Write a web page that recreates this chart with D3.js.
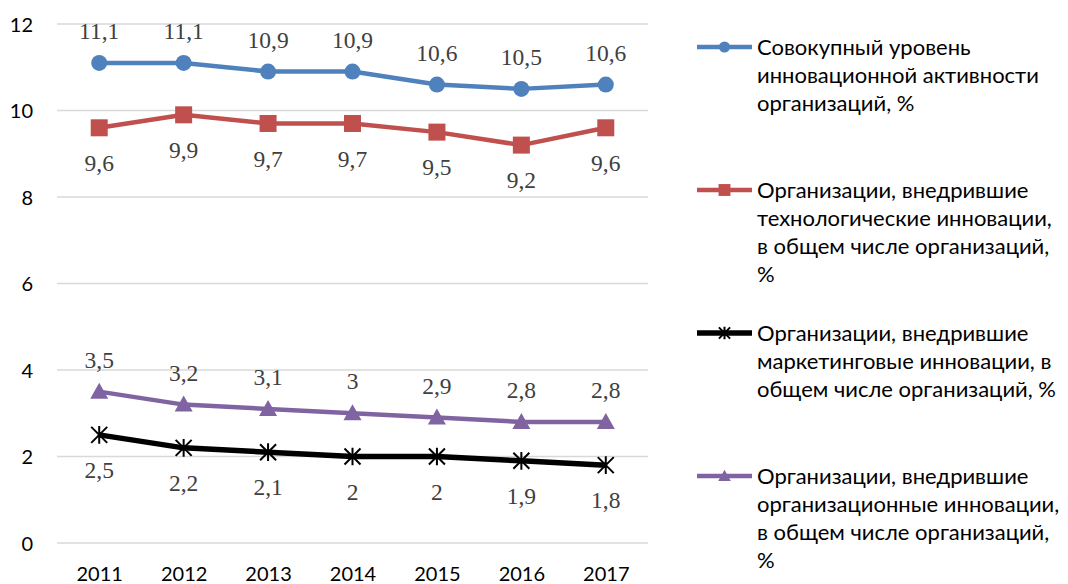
<!DOCTYPE html>
<html><head><meta charset="utf-8">
<script src="https://cdn.jsdelivr.net/npm/d3@7"></script>
<style>body{margin:0;background:#fff}</style>
</head><body>
<svg id="c" width="1068" height="584"></svg>
<script>
const years = ["2011","2012","2013","2014","2015","2016","2017"];
const totalActivity = [11.1,11.1,10.9,10.9,10.6,10.5,10.6];
const technological = [9.6,9.9,9.7,9.7,9.5,9.2,9.6];
const marketing = [2.5,2.2,2.1,2.0,2.0,1.9,1.8];
const organizational = [3.5,3.2,3.1,3.0,2.9,2.8,2.8];
const yTicks = [0,2,4,6,8,10,12];
const seriesNames = [
  ["Совокупный уровень","инновационной активности","организаций, %"],
  ["Организации, внедрившие","технологические инновации,","в общем числе организаций,","%"],
  ["Организации, внедрившие","маркетинговые инновации, в","общем числе организаций, %"],
  ["Организации, внедрившие","организационные инновации,","в общем числе организаций,","%"]
];

const series = [
  {values: totalActivity, color:"#4F81BD", marker:"circle", label:"above", width:4.5, name:seriesNames[0]},
  {values: technological, color:"#C0504D", marker:"square", label:"below", width:4.5, name:seriesNames[1]},
  {values: marketing, color:"#000000", marker:"star", label:"below", width:5.5, name:seriesNames[2]},
  {values: organizational, color:"#8064A2", marker:"triangle", label:"above", width:4.5, name:seriesNames[3]}
];

const svg = d3.select("#c");
const x = d3.scalePoint().domain(years).range([57,648]).padding(0.5);
const y = d3.scaleLinear().domain([0,12]).range([543,24]);
const sansFont = "Lato, 'Open Sans', sans-serif";

// gridlines
svg.append("g").selectAll("line").data(yTicks).join("line")
  .attr("x1",57).attr("x2",648).attr("y1",d=>y(d)).attr("y2",d=>y(d))
  .attr("stroke","#D9D9D9").attr("stroke-width",1.5);

// y axis labels
const yAxis = d3.axisLeft(y).tickValues(yTicks).tickSize(0).tickPadding(0).tickFormat(d=>d);
const ya = svg.append("g").attr("transform","translate(33,0)").call(yAxis);
ya.select(".domain").remove();
ya.selectAll("text").attr("font-family",sansFont).attr("font-size",20).attr("fill","#000").attr("dy","0.35em");

// x axis labels
const xAxis = d3.axisBottom(x).tickSize(0).tickPadding(0);
const xa = svg.append("g").attr("transform","translate(0,565)").call(xAxis);
xa.select(".domain").remove();
xa.selectAll("text").attr("font-family",sansFont).attr("font-size",20).attr("fill","#000").attr("dy","0.8em");

function drawMarker(g, type, color, s){
  if(type==="circle"){
    g.append("circle").attr("r",8*s).attr("fill",color);
  } else if(type==="square"){
    g.append("rect").attr("x",-8.5*s).attr("y",-8.5*s).attr("width",17*s).attr("height",17*s).attr("fill",color);
  } else if(type==="triangle"){
    g.append("path").attr("d",`M0,${-9*s}L${9*s},${7*s}L${-9*s},${7*s}Z`).attr("fill",color);
  } else if(type==="star"){
    const r=8*s;
    g.append("path").attr("d",`M${-r},${-r}L${r},${r}M${-r},${r}L${r},${-r}M0,${-r*1.1}L0,${r*1.1}`)
      .attr("stroke",color).attr("stroke-width",2).attr("fill","none");
  }
}

const line = d3.line().x((d,i)=>x(years[i])).y(d=>y(d));
series.forEach(s=>{
  svg.append("path").datum(s.values).attr("d",line).attr("fill","none")
    .attr("stroke",s.color).attr("stroke-width",s.width).attr("stroke-linejoin","round");
  s.values.forEach((v,i)=>{
    const g = svg.append("g").attr("transform",`translate(${x(years[i])},${y(v)})`);
    drawMarker(g,s.marker,s.color,1);
  });
  svg.append("g").selectAll("text").data(s.values).join("text")
    .attr("x",(d,i)=>x(years[i]))
    .attr("y",d=>y(d)+(s.label==="above"?-32:35))
    .attr("dy","0.35em")
    .attr("text-anchor","middle")
    .attr("font-family","'Liberation Serif','Times New Roman',serif")
    .attr("font-size",23.5).attr("fill","#404040")
    .text(d=>String(d).replace(".",","));
});

// legend
const legY = [47,190,333,476];
series.forEach((s,k)=>{
  const g = svg.append("g").attr("transform",`translate(0,${legY[k]})`);
  g.append("line").attr("x1",697).attr("x2",752).attr("y1",0).attr("y2",0)
    .attr("stroke",s.color).attr("stroke-width",s.width);
  const m = g.append("g").attr("transform","translate(724.5,0)");
  drawMarker(m,s.marker,s.color,0.7);
  const t = g.append("text").attr("x",757).attr("y",0)
    .attr("font-family",sansFont).attr("font-size",22).attr("fill","#000");
  s.name.forEach((ln,j)=>{
    t.append("tspan").attr("x",757).attr("y",j*28).attr("dy","0.35em").text(ln);
  });
});
</script>
</body></html>
